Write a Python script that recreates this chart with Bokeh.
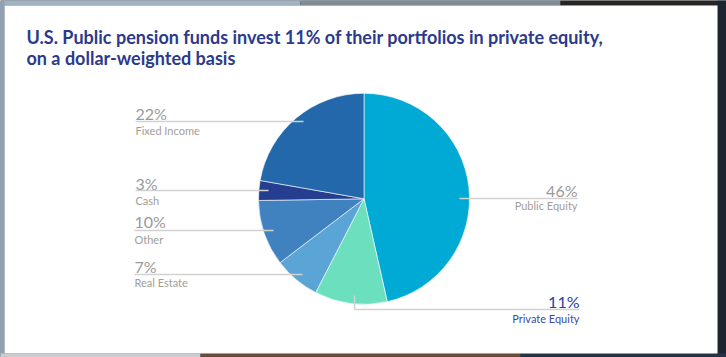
import math
from bokeh.plotting import figure
from bokeh.models import Range1d
from bokeh.core.properties import value
from bokeh.embed import file_html
from bokeh.resources import INLINE

# ---- data ----
categories = ["Public Equity", "Private Equity", "Real Estate", "Other", "Cash", "Fixed Income"]
shares = [46, 11, 7, 10, 3, 22]
pct_labels = ["46%", "11%", "7%", "10%", "3%", "22%"]
title_lines = ["U.S. Public pension funds invest 11% of their portfolios in private equity,",
               "on a dollar-weighted basis"]

# ---- style / layout ----
W, H = 726, 357
colors = ["#00aad5", "#6cdfbf", "#5aa4d6", "#3f82bf", "#253e8f", "#2368aa"]
def Y(sy):
    return H - sy

cx, cy, R = 363.5, Y(198.3), 105.5

# label layout: (text x, align, pct center y, name center y, line y, line x0, line x1)
label_layout = {
    "Fixed Income": (135, "left", 113, 130, 121, 135, 303),
    "Cash": (135, "left", 182.5, 199.5, 190, 135, 268),
    "Other": (134, "left", 221, 238.5, 230, 134, 273),
    "Real Estate": (134, "left", 266, 282, 274, 134, 302),
    "Public Equity": (577, "right", 189.5, 205, 198, 459, 577),
    "Private Equity": (579, "right", 301, 317.5, 309, 354, 579),
}
pct_color = {"Private Equity": "#2b3ea0"}
name_color = {"Private Equity": "#3b4ba8"}

p = figure(width=W, height=H, x_range=Range1d(0, W), y_range=Range1d(0, H),
           output_backend="svg", toolbar_location=None, min_border=0,
           background_fill_color="#2f3a48", border_fill_color="#2f3a48",
           outline_line_color=None)
p.axis.visible = False
p.grid.visible = False

# blurred photo backdrop approximation
p.quad(left=[0, 300, 560], right=[300, 560, W], bottom=[Y(5)] * 3, top=[H] * 3,
       color=["#9fb3c4", "#7f8c96", "#2a2420"], line_color=None)
p.quad(left=[0], right=[4], bottom=[0], top=[H], color="#8da3b8", line_color=None)
p.quad(left=[717], right=[W], bottom=[0], top=[H], color="#1e2430", line_color=None)
p.quad(left=[0, 200, 520], right=[200, 520, W], bottom=[0] * 3, top=[Y(353)] * 3,
       color=["#c9cdd0", "#6a4c38", "#24324a"], line_color=None)
# white card
p.quad(left=[4], right=[717], bottom=[Y(353)], top=[Y(5)], color="white", line_color=None)

# title
p.text(x=[26, 26], y=[Y(36), Y(57.5)], text=title_lines, text_font=value("Lato"),
       text_font_style="bold", text_font_size="18px", text_color="#2b3a8c",
       text_baseline="middle", text_align="left")

# pie
total = sum(shares)
cum = 0.0
starts, ends = [], []
for s in shares:
    a0 = math.pi / 2 - 2 * math.pi * cum / total
    cum += s
    a1 = math.pi / 2 - 2 * math.pi * cum / total
    starts.append(a1)
    ends.append(a0)
p.wedge(x=[cx] * len(shares), y=[cy] * len(shares), radius=R,
        start_angle=starts, end_angle=ends, fill_color=colors,
        line_color="white", line_width=0.6)

# leaders and labels
for cat, pct in zip(categories, pct_labels):
    tx, align, py, ny, ly, lx0, lx1 = label_layout[cat]
    p.line(x=[lx0, lx1], y=[Y(ly), Y(ly)], line_color="#d2d2d2", line_width=1.6)
    if cat == "Private Equity":
        p.line(x=[lx0, lx0], y=[Y(295), Y(ly)], line_color="#d2d2d2", line_width=1.6)
    p.text(x=[tx], y=[Y(py)], text=[pct], text_font=value("Lato"), text_font_size="16px",
           text_color=pct_color.get(cat, "#9a9a9a"), text_align=align, text_baseline="middle")
    p.text(x=[tx], y=[Y(ny)], text=[cat], text_font=value("Lato"), text_font_size="11px",
           text_color=name_color.get(cat, "#a29d98"), text_align=align, text_baseline="middle")

open("out.html", "w").write(file_html(p, INLINE))
